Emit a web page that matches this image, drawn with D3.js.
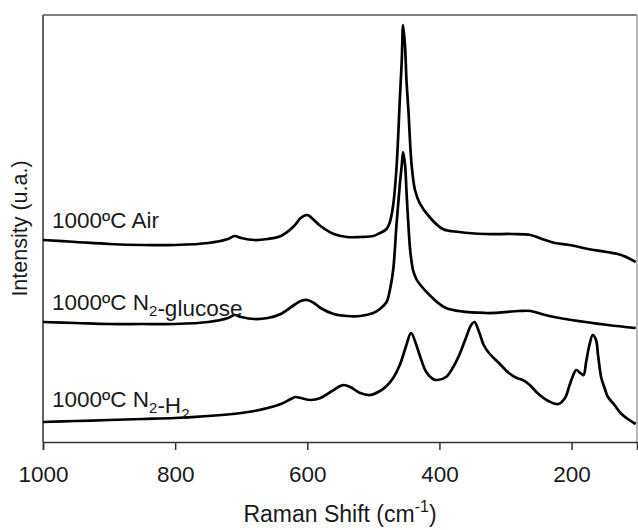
<!DOCTYPE html>
<html>
<head>
<meta charset="utf-8">
<script src="https://cdn.jsdelivr.net/npm/d3@7"></script>
<style>
  body { margin: 0; background: #fff; }
  text { font-family: "Liberation Sans", Arial, sans-serif; fill: #1a1a1a; }
</style>
</head>
<body>
<div id="chart"></div>
<script>
// Raman spectra, [shift cm-1, intensity a.u.]
const airData = [
  [1000, 202], [950, 200], [900, 198], [850, 197], [800, 197], [750, 199], [720, 203], [710, 206],
  [700, 204], [680, 202], [660, 203], [640, 206], [620, 216], [610, 224], [600, 227], [590, 222],
  [580, 216], [560, 208], [540, 205], [520, 205], [500, 206], [490, 209], [480, 213], [475, 220],
  [470, 237], [465, 274], [460, 342], [457, 382], [455, 417], [452, 395], [450, 363], [447, 332],
  [442, 276], [437, 252], [430, 239], [415, 225], [395, 213], [370, 210], [330, 208], [290, 208],
  [262, 207], [245, 203], [225, 199], [203, 197], [175, 193], [147, 190], [125, 187], [103, 180]
];
const glucoseData = [
  [1000, 120], [950, 119], [900, 118], [850, 118], [800, 118], [750, 120], [720, 124], [710, 127],
  [700, 125], [680, 123], [660, 124], [640, 128], [620, 137], [610, 141], [600, 142], [590, 139],
  [580, 134], [560, 128], [540, 126], [520, 126], [500, 129], [490, 133], [480, 140], [475, 152],
  [470, 172], [465, 217], [460, 257], [457, 277], [455, 290], [452, 277], [450, 252], [447, 217],
  [444, 190], [440, 172], [435, 163], [430, 158], [415, 147], [390, 134], [330, 129], [280, 131],
  [262, 131], [240, 127], [200, 122], [145, 117], [103, 114]
];
const h2Data = [
  [1000, 20], [950, 21], [900, 22], [850, 23], [800, 24], [750, 26], [700, 29], [680, 31],
  [660, 34], [640, 38], [625, 43], [618, 45], [610, 44], [595, 42], [580, 44], [565, 50],
  [550, 56], [545, 57], [535, 55], [520, 49], [505, 47], [490, 51], [480, 56], [470, 64],
  [460, 77], [450, 97], [443, 109], [435, 97], [430, 87], [420, 70], [410, 63], [403, 62],
  [390, 65], [380, 74], [370, 87], [360, 104], [352, 117], [347, 120], [340, 110], [333, 97],
  [325, 89], [310, 79], [295, 69], [283, 64], [274, 62], [265, 58], [250, 48], [235, 41],
  [220, 38], [210, 44], [203, 57], [198, 66], [193, 72], [187, 69], [182, 67], [178, 80],
  [173, 97], [168, 107], [163, 102], [160, 87], [155, 64], [150, 54], [145, 45], [135, 37],
  [126, 29], [115, 23], [103, 18]
];
const xTicks = [1000, 800, 600, 400, 200];

const W = 638, H = 530;
const margin = { left: 43, right: 1, top: 15, bottom: 88 };
const width = W - margin.left - margin.right;
const height = H - margin.top - margin.bottom;
const fontSize = 22.5;

const svg = d3.select("#chart").append("svg")
    .attr("width", W)
    .attr("height", H);

const g = svg.append("g")
    .attr("transform", `translate(${margin.left}, ${margin.top})`);

const x = d3.scaleLinear().domain([1000, 101]).range([0, width]);
const y = d3.scaleLinear().domain([0, 427]).range([height, 0]);

// frame: top and right edges lighter
g.append("line").attr("x1", 0).attr("x2", width).attr("y1", 0).attr("y2", 0)
    .attr("stroke", "#808080").attr("stroke-width", 2);
g.append("line").attr("x1", width).attr("x2", width).attr("y1", 0).attr("y2", height)
    .attr("stroke", "#a0a0a0").attr("stroke-width", 1.5);
g.append("line").attr("x1", 0).attr("x2", 0).attr("y1", 0).attr("y2", height)
    .attr("stroke", "#333").attr("stroke-width", 1.5);

const xAxis = g.append("g")
    .attr("transform", `translate(0, ${height})`)
    .call(d3.axisBottom(x).tickValues(xTicks).tickSize(8).tickPadding(16).tickFormat(d3.format("d")));
xAxis.select(".domain").attr("stroke", "#333").attr("stroke-width", 1.5);
xAxis.selectAll(".tick line").attr("stroke", "#333").attr("stroke-width", 1.5);
xAxis.selectAll(".tick text")
    .style("font-family", '"Liberation Sans", Arial, sans-serif')
    .style("font-size", fontSize + "px").attr("fill", "#1a1a1a");

const line = d3.line()
    .x(d => x(d[0]))
    .y(d => y(d[1]))
    .curve(d3.curveCatmullRom.alpha(0.5));

[airData, glucoseData, h2Data].forEach(series => {
  g.append("path")
      .attr("d", line(series))
      .attr("fill", "none")
      .attr("stroke", "#000")
      .attr("stroke-width", 2.7)
      .attr("stroke-linejoin", "round");
});

// series labels
function label(yPos, parts) {
  const t = g.append("text").attr("x", 9).attr("y", yPos).style("font-size", fontSize + "px");
  parts.forEach(p => {
    if (p.sub) {
      t.append("tspan").attr("dy", 6).style("font-size", "15px").text(p.sub);
      t.append("tspan").attr("dy", -6).text("");
    } else {
      t.append("tspan").text(p.t);
    }
  });
}
label(213, [{ t: "1000ºC Air" }]);
label(295, [{ t: "1000ºC N" }, { sub: "2" }, { t: "-glucose" }]);
label(392, [{ t: "1000ºC N" }, { sub: "2" }, { t: "-H" }, { sub: "2" }]);

// axis titles
svg.append("text")
    .attr("transform", `translate(27, ${margin.top + height / 2}) rotate(-90)`)
    .attr("text-anchor", "middle")
    .style("font-size", "21.5px")
    .text("Intensity (u.a.)");

const xt = svg.append("text")
    .attr("x", margin.left + width / 2)
    .attr("y", 522)
    .attr("text-anchor", "middle")
    .style("font-size", "23px");
xt.append("tspan").text("Raman Shift (cm");
xt.append("tspan").attr("dy", -10).style("font-size", "16px").text("-1");
xt.append("tspan").attr("dy", 10).text(")");
</script>
</body>
</html>
